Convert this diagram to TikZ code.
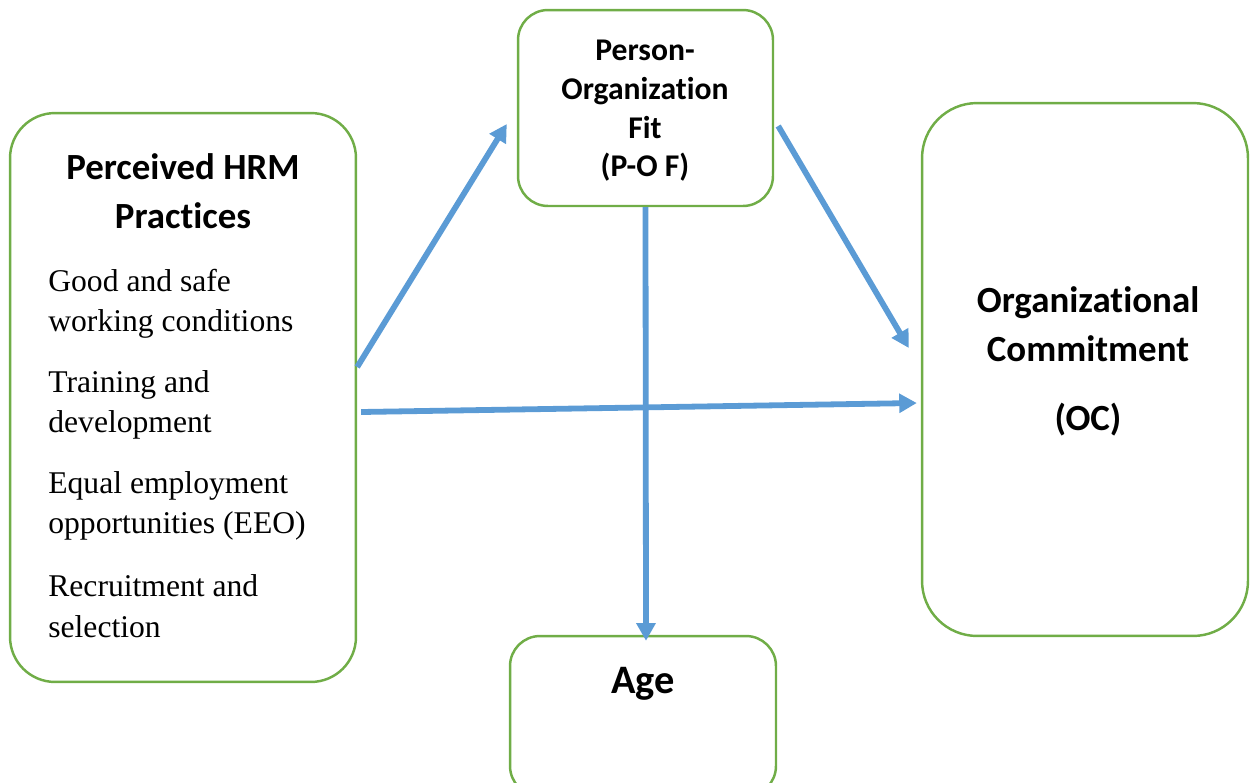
\documentclass[tikz,border=0pt]{standalone}
\usepackage{fontspec}
\setmainfont{Liberation Serif}
\newfontfamily\calibri[RawFeature={-liga;-calt;-clig}]{Carlito}
\usetikzlibrary{arrows.meta}
\definecolor{boxgreen}{RGB}{112,173,71}
\definecolor{linkblue}{RGB}{91,155,213}

\begin{document}
\begin{tikzpicture}[x=0.02cm,y=-0.02cm,
  box/.style={draw=boxgreen,line width=1.4pt,fill=white},
  link/.style={draw=linkblue,line width=3.3pt,-{Triangle[length=10pt,width=10.5pt]}},
  head/.style={font=\calibri\bfseries\fontsize{21}{28}\selectfont,align=center},
  item/.style={font=\fontsize{18}{23}\selectfont,align=left,anchor=west,inner sep=0pt}]
  \useasboundingbox (0,0) rectangle (1250,782);
  \node[box,rounded corners=0.9cm,minimum width=6.92cm,minimum height=11.38cm] (hrm) at (183,397.5) {};
  \node[box,rounded corners=0.6cm,minimum width=5.1cm,minimum height=3.92cm] (pof) at (645.5,108) {};
  \node[box,rounded corners=1.1cm,minimum width=6.52cm,minimum height=10.66cm] (oc) at (1085,369.5) {};
  \node[box,rounded corners=0.6cm,minimum width=5.32cm,minimum height=3.2cm] (age) at (643,716) {};
  \node[head] (hrmtitle) at (183,191) {Perceived HRM\\Pract\kern0pt ices};
  \node[item] (good) at (48,304) {Good and safe\\working conditions};
  \node[item] (train) at (48,405) {Training and\\development};
  \node[item] (eeo) at (48,506) {Equal employment\\opportunities (EEO)};
  \node[item] (recruit) at (48,606) {Recruitment and\\selection};
  \node[head,font=\calibri\bfseries\fontsize{18}{22}\selectfont] (poftitle) at (645,111) {Person-\\Organizat\kern0pt ion\\Fit\\(P-O F)};
  \node[head] (octitle) at (1088,324) {Organizat\kern0pt ional\\Commitment};
  \node[head] (ocshort) at (1088,420) {(OC)};
  \node[head,font=\calibri\bfseries\fontsize{23}{28}\selectfont] (agetitle) at (643,684) {Age};
  \draw[link] ([yshift=0.61cm]hrm.east) -- ([xshift=-0.2cm,yshift=-0.32cm]pof.west);
  \draw[link] ([xshift=0.08cm,yshift=-0.36cm]pof.east) -- ([xshift=-0.24cm,yshift=0.43cm]oc.west);
  \draw[link] ([xshift=0.08cm,yshift=-0.29cm]hrm.east) -- ([xshift=-0.08cm,yshift=-0.67cm]oc.west);
  \draw[link] (pof.south) -- ([xshift=0.06cm,yshift=-0.12cm]age.north);
\end{tikzpicture}
\end{document}
